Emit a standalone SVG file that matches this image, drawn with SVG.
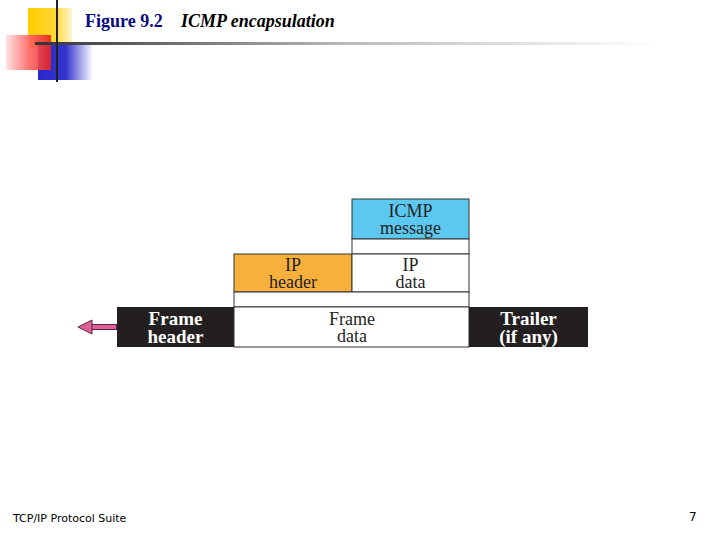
<svg xmlns="http://www.w3.org/2000/svg" width="720" height="540" viewBox="0 0 720 540">
<defs>
<linearGradient id="yel" x1="0" y1="0" x2="1" y2="0"><stop offset="0" stop-color="#FFCC00"/><stop offset="0.6" stop-color="#FFD633"/><stop offset="1" stop-color="#FFF6D0"/></linearGradient>
<linearGradient id="red" x1="0" y1="0" x2="1" y2="0"><stop offset="0" stop-color="#FFE0E0"/><stop offset="0.5" stop-color="#FF6666"/><stop offset="1" stop-color="#E82020"/></linearGradient>
<linearGradient id="blu" x1="0" y1="0" x2="1" y2="0"><stop offset="0" stop-color="#2A2ACC"/><stop offset="0.5" stop-color="#3333CC"/><stop offset="1" stop-color="#FFFFFF"/></linearGradient>
<linearGradient id="hl" x1="0" y1="0" x2="1" y2="0"><stop offset="0" stop-color="#333333"/><stop offset="0.5" stop-color="#BBBBBB"/><stop offset="1" stop-color="#FFFFFF"/></linearGradient>
<style>
.t{font-family:"Liberation Serif",serif;font-size:18px;fill:#231f20;text-anchor:middle}
.tb{font-family:"Liberation Serif",serif;font-size:19px;font-weight:bold;fill:#ffffff;text-anchor:middle}
.box{stroke:#333;stroke-width:1}
</style>
</defs>
<rect width="720" height="540" fill="#ffffff"/>
<g id="decor">
<rect x="28" y="8" width="44" height="40" fill="url(#yel)"/>
<rect x="38" y="45" width="55" height="35" fill="url(#blu)"/>
<rect x="6" y="35" width="45" height="35" fill="url(#red)" opacity="0.9"/>
<rect x="35" y="42" width="625" height="3" fill="url(#hl)"/>
<rect x="56" y="0" width="2" height="82" fill="#222"/>
</g>
<g id="title">
<text x="85" y="27" font-family="Liberation Serif,serif" font-size="18" font-weight="bold" fill="#0A0A80">Figure 9.2</text>
<text x="181" y="27" font-family="Liberation Serif,serif" font-size="18" font-weight="bold" font-style="italic" fill="#000">ICMP encapsulation</text>
</g>
<g id="icmp">
<rect class="box" x="352" y="199" width="117" height="40" fill="#5CC8F0"/>
<text class="t" x="410.5" y="217">ICMP</text>
<text class="t" x="410.5" y="234">message</text>
</g>
<g id="icmp-strip"><rect class="box" x="352" y="239" width="117" height="15" fill="#fff"/></g>
<g id="ip-header">
<rect class="box" x="234" y="254" width="118" height="38" fill="#F8B03C"/>
<text class="t" x="293" y="271">IP</text>
<text class="t" x="293" y="288">header</text>
</g>
<g id="ip-data">
<rect class="box" x="352" y="254" width="117" height="38" fill="#fff"/>
<text class="t" x="410.5" y="271">IP</text>
<text class="t" x="410.5" y="288">data</text>
</g>
<g id="ip-strip"><rect class="box" x="234" y="292" width="235" height="15" fill="#fff"/></g>
<g id="frame-header">
<rect x="117" y="307" width="117" height="40" fill="#231F20"/>
<text class="tb" x="175.5" y="325">Frame</text>
<text class="tb" x="175.5" y="343">header</text>
</g>
<g id="frame-data">
<rect class="box" x="234" y="307" width="235" height="40" fill="#fff"/>
<text class="t" x="352" y="325">Frame</text>
<text class="t" x="352" y="342">data</text>
</g>
<g id="trailer">
<rect x="469" y="307" width="119" height="40" fill="#231F20"/>
<text class="tb" x="528.5" y="325">Trailer</text>
<text class="tb" x="528.5" y="343">(if any)</text>
</g>
<g id="connectors">
<line x1="117" y1="327" x2="90" y2="327" stroke="#5a2040" stroke-width="6"/>
<line x1="116" y1="327" x2="90" y2="327" stroke="#E0609A" stroke-width="4"/>
<path d="M78,327 L92,320 L92,334 Z" fill="#E0609A" stroke="#5a2040" stroke-width="1"/>
</g>
<g id="footer">
<text x="13" y="522" font-family="DejaVu Sans,sans-serif" font-size="11" fill="#000">TCP/IP Protocol Suite</text>
<text x="689" y="521" font-family="DejaVu Sans,sans-serif" font-size="12" fill="#000">7</text>
</g>
</svg>
